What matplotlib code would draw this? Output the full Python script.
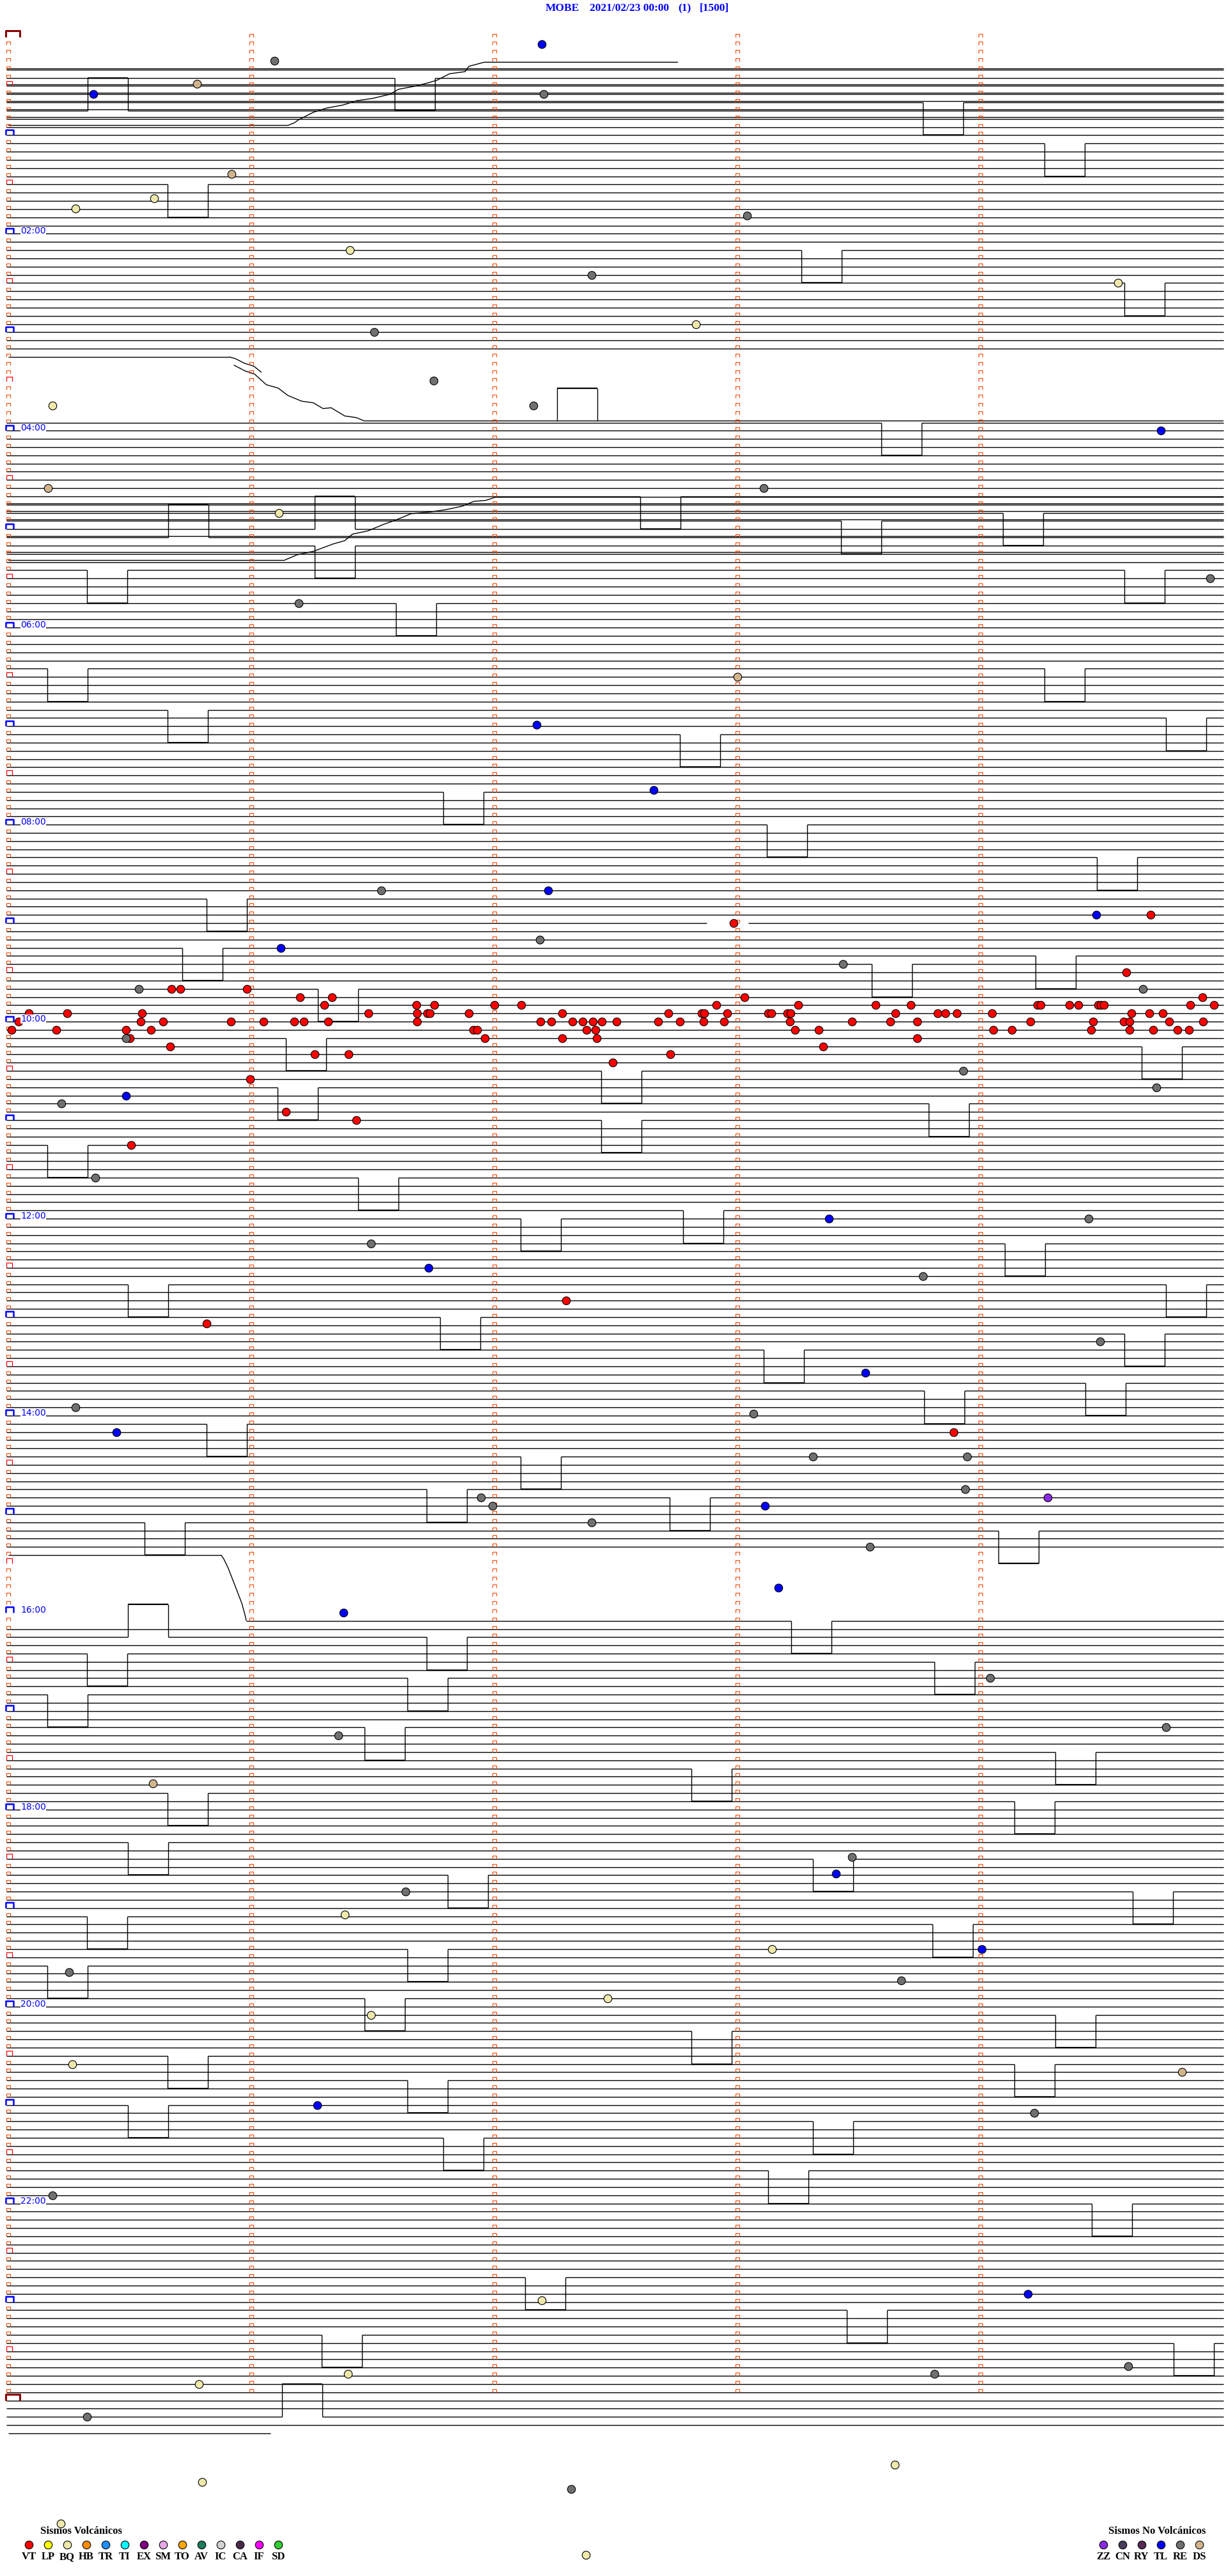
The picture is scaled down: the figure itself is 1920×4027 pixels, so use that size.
import matplotlib
matplotlib.use("Agg")
import matplotlib.pyplot as plt
from matplotlib.collections import LineCollection

# ---------------------------------------------------------------- header
station = "MOBE"
day_label = "2021/02/23 00:00"
channel_label = "(1)"
scale_label = "[1500]"

# helicorder: 288 rows of 5 minutes, x = minute inside the row (0..5)
n_rows = 288
hour_labels = ["02:00", "04:00", "06:00", "08:00", "10:00", "12:00",
               "14:00", "16:00", "18:00", "20:00", "22:00"]

# trace rows present on the drum (row index of the 5-min line)
trace_first, trace_last = 4, 292
blank_spans = [(40, 46), (186, 192)]
partial_rows = {39: (0.0, 0.908), 185: (0.0, 0.876), 193: (0.979, 5.0), 292: (0.0, 1.08)}
double_rows = [4, 6, 7, 8, 9, 10, 57, 58, 59, 61, 63]
line_gaps = {108: [(2.875, 3.045)]}

# slow drifts of the trace (minute, row)
drift_a_min = [0.0, 1.150, 1.176, 1.195, 1.255, 1.308, 1.379, 1.432, 1.5, 1.571, 1.605,
               1.676, 1.729, 1.763, 1.816, 1.879, 1.895, 1.958, 2.755]
drift_a_row = [10.8, 10.8, 10.5, 10.1, 9.2, 8.7, 8.3, 7.8, 7.5, 7.0, 6.4,
               6.0, 5.6, 5.3, 4.5, 4.25, 3.6, 3.1, 3.1]
drift_b1_min = [0.908, 0.933, 0.973, 0.997, 1.013, 1.042]
drift_b1_row = [39.0, 39.2, 39.8, 40.0, 40.2, 40.9]
drift_b2_min = [0.928, 0.973, 1.013, 1.062, 1.110, 1.150, 1.207, 1.255, 1.295, 1.328,
                1.384, 1.432, 1.464, 5.0]
drift_b2_row = [40.0, 40.7, 41.1, 42.4, 42.8, 43.7, 44.4, 44.6, 45.3, 45.2,
                46.2, 46.4, 46.8, 46.8]
drift_c_min = [0.0, 1.134, 1.19, 1.255, 1.336, 1.384, 1.416, 1.48, 1.545, 1.593, 1.658,
               1.738, 1.803, 1.867, 1.916, 1.963, 2.004, 5.0]
drift_c_row = [63.8, 63.8, 63.1, 62.7, 61.8, 61.4, 60.6, 60.2, 59.4, 58.9, 58.1,
               57.9, 57.6, 57.2, 56.6, 56.5, 56.1, 56.1]
drift_d_min = [0.876, 0.887, 0.905, 0.918, 0.939, 0.961, 0.974, 0.979]
drift_d_row = [185.0, 185.5, 186.6, 187.6, 189.2, 190.9, 192.3, 193.0]

# calibration-like pulses: trace row, start minute, direction (+1 down, -1 up)
box_row = [9, 5, 8, 13, 18, 26, 30, 46.8, 47, 56, 61, 60, 62, 59, 58, 65, 65, 69, 77, 77,
           82, 85, 83, 92, 96, 100, 105, 111, 113, 112, 116, 122, 128, 126, 132, 123, 130,
           135, 139, 144, 143, 147, 152, 152, 156, 160, 158, 165, 164, 169, 173, 177, 178,
           182, 181, 195, 193, 197, 195, 198, 200, 202, 206, 209, 211, 214, 215, 220, 224,
           222, 226, 229, 230, 235, 233, 239, 241, 243, 246, 247, 252, 249, 254, 256, 260,
           264, 273, 277, 280, 281, 290]
box_min = [0.326, 1.589, 3.763, 4.263, 0.655, 3.263, 4.592, 2.258, 3.592, 2.600, 0.658,
           1.261, 1.261, 3.426, 4.092, 0.324, 4.592, 1.595, 0.161, 4.263, 0.655, 2.763,
           4.763, 1.789, 3.121, 4.479, 0.816, 0.716, 3.553, 4.226, 1.274, 1.142, 1.108,
           2.439, 2.439, 4.663, 3.787, 0.161, 1.439, 2.108, 2.776, 4.100, 0.492, 4.763,
           1.776, 3.108, 4.592, 3.768, 4.432, 0.816, 2.108, 1.721, 2.721, 4.074, 0.561,
           0.492, 3.221, 0.324, 1.721, 3.811, 1.642, 0.161, 1.466, 4.308, 2.811, 0.655,
           4.139, 0.492, 1.808, 3.311, 4.626, 0.324, 3.803, 0.161, 1.642, 1.466, 4.308,
           2.811, 0.655, 4.139, 0.492, 1.642, 3.311, 1.789, 3.126, 4.458, 2.126, 3.450,
           1.289, 4.795, 1.126]
box_dir = [-1, 1, 1, 1, 1, 1, 1, -1, 1, 1, -1, -1, 1, 1, 1, 1, 1, 1, 1, 1,
           1, 1, 1, 1, 1, 1, 1, 1, 1, 1, 1, 1, 1, 1, 1, 1, 1,
           1, 1, 1, 1, 1, 1, 1, 1, 1, 1, 1, 1, 1, 1, 1, 1,
           1, 1, -1, 1, 1, 1, 1, 1, 1, 1, 1, 1, 1, 1, 1, 1,
           1, 1, 1, 1, 1, 1, 1, 1, 1, 1, 1, 1, 1, 1, 1, 1,
           1, 1, 1, 1, 1, -1]

# ---------------------------------------------------------------- events
vt_row = [107, 108, 114, 116, 116, 116, 117, 117, 117, 117]
vt_min = [4.70, 2.984, 4.60, 0.671, 0.708, 0.982, 1.20, 1.332, 3.029, 4.913]
vt_row += [118] * 18
vt_min += [1.30, 1.679, 1.753, 2.0, 2.111, 2.913, 3.25, 3.568, 3.713, 4.234, 4.247, 4.366,
           4.403, 4.484, 4.495, 4.508, 4.863, 4.961]
vt_row += [119] * 25
vt_min += [0.084, 0.242, 0.55, 1.482, 1.682, 1.724, 1.734, 1.895, 2.279, 2.716, 2.853,
           2.863, 2.958, 3.126, 3.139, 3.205, 3.218, 3.65, 3.824, 3.855, 3.903, 4.047,
           4.621, 4.695, 4.75]
vt_row += [120] * 30
vt_min += [0.042, 0.545, 0.637, 0.916, 1.05, 1.176, 1.216, 1.316, 1.682, 2.189, 2.234,
           2.321, 2.363, 2.405, 2.442, 2.503, 2.674, 2.763, 2.861, 2.945, 3.216, 3.471,
           3.629, 3.739, 4.205, 4.463, 4.589, 4.613, 4.776, 4.916]
vt_row += [121] * 17
vt_min += [0.013, 0.197, 0.484, 0.587, 1.913, 1.929, 2.379, 2.416, 3.237, 3.334, 4.053,
           4.129, 4.455, 4.613, 4.711, 4.811, 4.858]
vt_row += [122, 122, 122, 122, 122, 123, 123, 124, 124, 124, 125, 127, 131, 132, 135,
           154, 156.8, 170]
vt_min += [0.50, 1.961, 2.279, 2.421, 3.739, 0.666, 3.353, 1.261, 1.40, 2.724, 2.487,
           0.995, 1.142, 1.432, 0.506, 2.296, 0.817, 3.89]

re_row = [2.9, 7, 21.8, 29, 36, 41.9, 44.9, 55, 66, 69, 104, 110, 113, 116, 116, 122,
          126, 128, 130, 139, 144, 147, 151, 159, 167, 167.8, 173, 173, 178, 179, 177,
          181, 184, 200, 207, 206, 221.8, 226, 235.8, 236.8, 253, 263, 284.8, 283.8,
          290, 298.8]
re_min = [1.094, 2.202, 3.04, 2.40, 1.506, 1.749, 2.161, 3.107, 4.944, 1.195, 1.533,
          2.188, 3.434, 4.668, 0.537, 0.484, 3.929, 4.724, 0.218, 0.357, 4.444, 1.492,
          3.762, 4.492, 0.277, 3.066, 3.31, 3.945, 1.945, 1.992, 3.938, 2.40, 3.546,
          4.039, 1.357, 4.762, 3.472, 1.634, 0.249, 3.674, 4.222, 0.182, 3.81, 4.607,
          0.324, 2.316]

tl_row = [0.9, 7, 48, 83.8, 91.8, 104, 107, 111, 129, 144, 150, 162.8, 170, 179, 189,
          192, 223.8, 233, 252, 275]
tl_min = [2.195, 0.351, 4.742, 2.175, 2.654, 2.222, 4.476, 1.121, 0.484, 3.377, 1.729,
          3.526, 0.446, 3.114, 3.168, 1.378, 3.404, 4.005, 1.27, 4.195]

bq_row = [20.9, 19.7, 26, 30, 35, 44.9, 58, 228.8, 233, 239, 241, 247, 275.8, 284.8,
          286, 297.9, 295.8, 303, 306.8]
bq_min = [0.277, 0.601, 1.405, 4.566, 2.83, 0.182, 1.114, 1.384, 3.141, 2.465, 1.493,
          0.263, 2.195, 1.398, 0.783, 0.797, 3.647, 0.216, 2.376]

ds_row = [5.7, 16.7, 55, 78, 212.8, 248]
ds_min = [0.776, 0.918, 0.162, 2.999, 0.594, 4.83]

zz_row = [178]
zz_min = [4.276]

# ---------------------------------------------------------------- legend
volc_codes = ["VT", "LP", "BQ", "HB", "TR", "TI", "EX", "SM", "TO", "AV", "IC", "CA", "IF", "SD"]
volc_colors = ["#FF0000", "#FFFF00", "#EEE8AA", "#FF8C00", "#1E90FF", "#00FFFF", "#800080",
               "#E6A8E6", "#FFA500", "#1E7B5E", "#D3D3D3", "#4A2A4A", "#FF00FF", "#32CD32"]
novolc_codes = ["ZZ", "CN", "RY", "TL", "RE", "DS"]
novolc_colors = ["#8A2BE2", "#483D5B", "#552A55", "#0000FF", "#707070", "#D2B48C"]

# ---------------------------------------------------------------- layout
W, H = 1920, 4027
X0, PX_MIN = 13.0, 380.0       # pixel of minute 0, pixels per minute
Y0, PX_ROW = 57.5, 12.83       # pixel of row 0, pixels per row
BOX_W = 63 / PX_MIN
LW = 1.0
MARK = "#FF4500"

fig = plt.figure(figsize=(W / 100, H / 100), dpi=100)
ax = fig.add_axes([0, 0, 1, 1])
ax.set_xlim(-X0 / PX_MIN, (W - X0) / PX_MIN)
ax.set_ylim((H - Y0) / PX_ROW, -Y0 / PX_ROW)
ax.axis("off")

ov = fig.add_axes([0, 0, 1, 1])
ov.set_xlim(0, W)
ov.set_ylim(H, 0)
ov.axis("off")
ov.patch.set_alpha(0)

# gaps left by upward/downward pulses
gaps = {k: list(v) for k, v in line_gaps.items()}
for r, m0, d in zip(box_row, box_min, box_dir):
    gaps.setdefault(r, []).append((m0, m0 + BOX_W))

segs, thick = [], []
for r in range(trace_first, trace_last + 1):
    if any(a <= r <= b for a, b in blank_spans):
        continue
    lo, hi = partial_rows.get(r, (-0.008, 5.0))
    x = lo
    for a, b in sorted(gaps.get(r, [])):
        if a > x:
            segs.append([(x, r), (min(a, hi), r)])
        x = max(x, b)
    if x < hi:
        segs.append([(x, r), (hi, r)])
    if r in double_rows:
        segs.append([(lo, r - 0.18), (hi, r - 0.18)])

for r, m0, d in zip(box_row, box_min, box_dir):
    r2 = r + 4 * d
    segs.append([(m0, r), (m0, r2)])
    segs.append([(m0 + BOX_W, r), (m0 + BOX_W, r2)])
    thick.append([(m0, r2), (m0 + BOX_W, r2)])

for xs, ys in [(drift_a_min, drift_a_row), (drift_b1_min, drift_b1_row),
               (drift_b2_min, drift_b2_row), (drift_c_min, drift_c_row),
               (drift_d_min, drift_d_row)]:
    segs.append(list(zip(xs, ys)))

ax.add_collection(LineCollection(segs, colors="black", linewidths=LW))
ax.add_collection(LineCollection(thick, colors="black", linewidths=1.6))


# row tick marks on the drum
def cap(m, r, left, width, height):
    x0 = m + left / PX_MIN
    x1 = x0 + width / PX_MIN
    y1 = r - height / PX_ROW
    return [(x0, r), (x0, y1), (x1, y1), (x1, r)]


orange, red, blue, dark = [], [], [], []
for r in range(n_rows + 1):
    for c in range(5):
        if c == 0:
            if r % n_rows == 0:
                dark.append(cap(c, r, -3.7, 21.4, 10))
            elif r % 12 == 0:
                blue.append(cap(c, r, -3.7, 11.4, 8.5))
            elif r % 6 == 0:
                red.append(cap(c, r, -3.0, 8.7, 7.7))
            else:
                orange.append(cap(c, r, -3.0, 6.0, 5.0))
        elif r < n_rows:
            orange.append(cap(c, r, -3.0, 6.0, 5.0))

ax.add_collection(LineCollection(orange, colors=MARK, linewidths=0.8))
ax.add_collection(LineCollection(red, colors="#FF0000", linewidths=0.9))
ax.add_collection(LineCollection(blue, colors="#0000FF", linewidths=1.8))
ax.add_collection(LineCollection(dark, colors="#8B0000", linewidths=2.2))

for lab in hour_labels:
    r = int(lab[:2]) * 12
    ax.text(0.05, r, lab, color="#0000FF", fontsize=10, ha="left", va="baseline",
            family=["Liberation Sans Narrow", "DejaVu Sans"],
            bbox=dict(facecolor="white", edgecolor="none", pad=0))

# events
ev_style = dict(ls="none", marker="o", ms=9, mec="black", mew=0.8)
ax.plot(vt_min, vt_row, mfc="#FF0000", **ev_style)
ax.plot(re_min, re_row, mfc="#707070", **ev_style)
ax.plot(tl_min, tl_row, mfc="#0000FF", **ev_style)
ax.plot(bq_min, bq_row, mfc="#EEE8AA", **ev_style)
ax.plot(ds_min, ds_row, mfc="#D2B48C", **ev_style)
ax.plot(zz_min, zz_row, mfc="#8A2BE2", **ev_style)

# title
serif = ["Liberation Serif", "DejaVu Serif"]
for x, s in [(853, station), (922, day_label), (1060, channel_label), (1094, scale_label)]:
    ov.text(x, 13, s, color="#0000FF", fontsize=12.5, fontweight="bold", family=serif,
            ha="left", va="center")

# legend
ov.text(63, 3957, "Sismos Volcánicos", fontsize=12, fontweight="bold", family=serif,
        ha="left", va="center")
for i, (code, col) in enumerate(zip(volc_codes, volc_colors)):
    x = 45 + 30 * i
    ov.plot(x, 3978, mfc=col, **ev_style)
    ov.text(x, 3997, code, fontsize=12, fontweight="bold", family=serif, ha="center", va="center")

ov.text(1733, 3957, "Sismos No Volcánicos", fontsize=12, fontweight="bold", family=serif,
        ha="left", va="center")
for i, (code, col) in enumerate(zip(novolc_codes, novolc_colors)):
    x = 1725 + 30 * i
    ov.plot(x, 3978, mfc=col, **ev_style)
    ov.text(x, 3997, code, fontsize=12, fontweight="bold", family=serif, ha="center", va="center")

fig.savefig("out.png", dpi=100, facecolor="white")
